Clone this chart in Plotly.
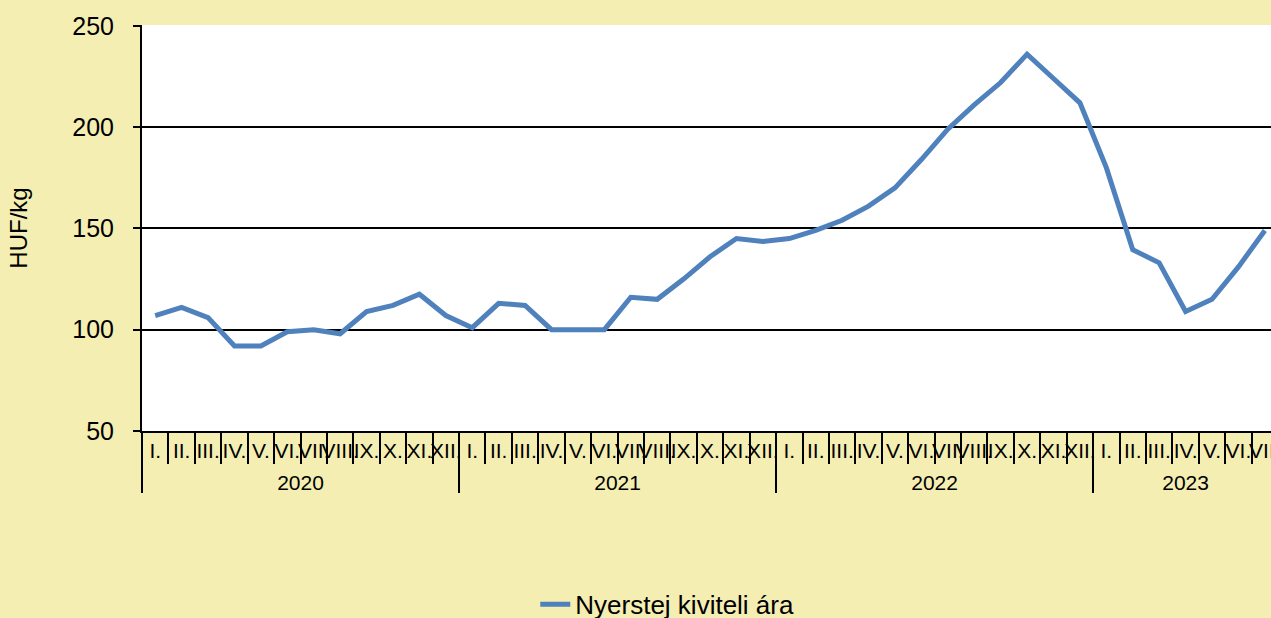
import plotly.graph_objects as go

months = ["I.", "II.", "III.", "IV.", "V.", "VI.", "VII.", "VIII.", "IX.", "X.", "XI.", "XII."]
years = ["2020", "2021", "2022", "2023"]
values_2020 = [107, 111, 106, 92, 92, 99, 100, 98, 109, 112, 117.5, 107]
values_2021 = [101, 113, 112, 100, 100, 100, 116, 115, 125, 136, 145, 143.5]
values_2022 = [145, 149, 154, 161, 170, 184, 199, 211, 222, 236, 224, 212]
values_2023 = [180, 139.5, 133, 109, 115, 131, 149]
series_name = "Nyerstej kiviteli ára"
y_title = "HUF/kg"
y_ticks = [50, 100, 150, 200, 250]

yearly = [values_2020, values_2021, values_2022, values_2023]
values = [v for ys in yearly for v in ys]
month_labels = [months[i] for ys in yearly for i in range(len(ys))]
x = list(range(len(values)))

# year groups
year_centers, year_starts = [], []
start = 0
for ys in yearly:
    year_starts.append(start - 0.5)
    year_centers.append(start + (len(ys) - 1) / 2)
    start += len(ys)
boundaries = [i - 0.5 for i in range(len(values) + 1)]

W, H = 1271, 618
left, top, bottom = 142, 25, 431
cat_w = 26.42
xr = [-0.5, -0.5 + (W - left) / cat_w]

FONT = "Liberation Sans, Arial, sans-serif"
BG = "#F4EEB3"

fig = go.Figure()
fig.add_trace(go.Scatter(
    x=x, y=values, mode="lines", name=series_name,
    line=dict(color="#4F81BD", width=5), xaxis="x", yaxis="y",
))

common = dict(range=xr, showgrid=False, zeroline=False, fixedrange=True, automargin=False)

fig.update_layout(
    width=W, height=H,
    paper_bgcolor=BG, plot_bgcolor="white",
    margin=dict(l=left, r=0, t=top, b=H - bottom, pad=0, autoexpand=False),
    font=dict(family=FONT, color="black"),
    showlegend=True,
    legend=dict(
        orientation="h", xref="container", yref="container",
        x=0.525, xanchor="center", y=0.022, yanchor="middle",
        font=dict(size=26, family=FONT), bgcolor="rgba(0,0,0,0)",
    ),
    xaxis=dict(
        **common, tickmode="array", tickvals=boundaries, ticktext=[""] * len(boundaries),
        ticks="outside", ticklen=31, tickwidth=2, tickcolor="black",
        showline=True, linecolor="black", linewidth=2, anchor="y",
    ),
    xaxis2=dict(
        **common, overlaying="x", anchor="y", side="bottom",
        tickmode="array", tickvals=x, ticktext=month_labels, tickangle=0,
        ticks="", ticklabelstandoff=5, tickfont=dict(size=21, family=FONT),
        ticklabeloverflow="allow", showline=False,
    ),
    xaxis3=dict(
        **common, overlaying="x", anchor="y", side="bottom",
        tickmode="array", tickvals=year_centers, ticktext=years, tickangle=0,
        ticks="", ticklabelstandoff=37, tickfont=dict(size=21, family=FONT),
        showline=False,
    ),
    xaxis4=dict(
        **common, overlaying="x", anchor="y", side="bottom",
        tickmode="array", tickvals=year_starts, showticklabels=False,
        ticks="outside", ticklen=61, tickwidth=2, tickcolor="black",
        showline=False,
    ),
    yaxis=dict(
        range=[50, 250.4], tickmode="array", tickvals=y_ticks,
        showgrid=True, gridcolor="black", gridwidth=2,
        showline=True, linecolor="black", linewidth=2,
        ticks="outside", ticklen=7, tickwidth=2, tickcolor="black",
        ticklabelstandoff=14, tickfont=dict(size=25, family=FONT),
        zeroline=False, fixedrange=True, automargin=False,
        title=dict(text=y_title, font=dict(size=24, family=FONT), standoff=38),
    ),
)

for ax in ["xaxis2", "xaxis3", "xaxis4"]:
    fig.add_trace(go.Scatter(x=[None], y=[None], xaxis=ax.replace("axis", ""), yaxis="y",
                             showlegend=False, hoverinfo="skip"))

fig.write_html(
    "out.html",
    config={"displayModeBar": False},
    post_script="document.body.style.margin='0';document.body.style.overflow='hidden';",
)
